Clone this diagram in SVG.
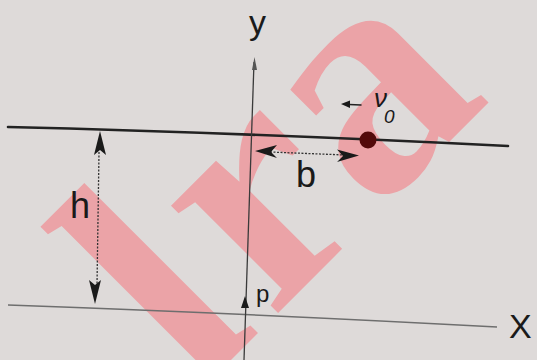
<svg xmlns="http://www.w3.org/2000/svg" width="537" height="360" viewBox="0 0 537 360">
<style>
.ln{fill:none;stroke:#222;stroke-linecap:round}
.lbl{font-family:"Liberation Sans",Arial,sans-serif;fill:#1a1a1a}
.ah{fill:#1a1a1a}
.wm{font-family:"Liberation Serif","Times New Roman",serif;font-weight:bold;fill:#eba3a7}
</style>
<rect width="537" height="360" fill="#dedad9"/>
<g id="watermark">
<text class="wm" transform="translate(207,384) rotate(-45)" font-size="330"><tspan dx="-14">l</tspan><tspan dx="14">ra</tspan></text>
</g>
<g id="plate">
<path class="ln" d="M8,127 Q250,133 508,146" stroke-width="2.6"/>
</g>
<g id="x-axis">
<path d="M8,305 Q260,314 497,327" fill="none" stroke="#6e6e6e" stroke-width="1.5"/>
<text class="lbl" x="509" y="338" font-size="34">X</text>
</g>
<g id="y-axis">
<line x1="254" y1="62" x2="244" y2="360" stroke="#3a3a3a" stroke-width="1.3"/>
<path d="M254.5,57 L257,70 L252,70 Z" fill="#555"/>
<text class="lbl" x="249" y="34" font-size="34">y</text>
</g>
<g id="particle">
<circle cx="368" cy="140" r="8.5" fill="#520a0a"/>
</g>
<g id="v0">
<line class="ln" x1="349" y1="104.5" x2="361" y2="105" stroke-width="1.5"/>
<path class="ah" d="M341,104 L350,100.5 L350,108 Z"/>
<text class="lbl" x="374" y="107" font-size="26" font-style="italic">ν</text>
<text class="lbl" x="384" y="123" font-size="19" font-style="italic">0</text>
</g>
<g id="b">
<line x1="270" y1="152" x2="345" y2="155" stroke="#333" stroke-width="1.3" stroke-dasharray="2 1.5"/>
<path class="ah" d="M255,151 L277,145 L271,152 L277,158 Z"/>
<path class="ah" d="M359,155.5 L337,149.5 L343,156 L337,162 Z"/>
<text class="lbl" x="296" y="187" font-size="36">b</text>
</g>
<g id="h">
<line x1="99" y1="152" x2="97" y2="285" stroke="#333" stroke-width="1.3" stroke-dasharray="2 1.5"/>
<path class="ah" d="M100,131 L106,155 L100,150 L94,155 Z"/>
<path class="ah" d="M95,304 L89,280 L95,285 L101,280 Z"/>
<text class="lbl" x="70" y="218" font-size="36">h</text>
</g>
<g id="p">
<path class="ah" d="M245,296 L249,308 L241,308 Z"/>
<text class="lbl" x="256" y="302" font-size="24">p</text>
</g>
</svg>
